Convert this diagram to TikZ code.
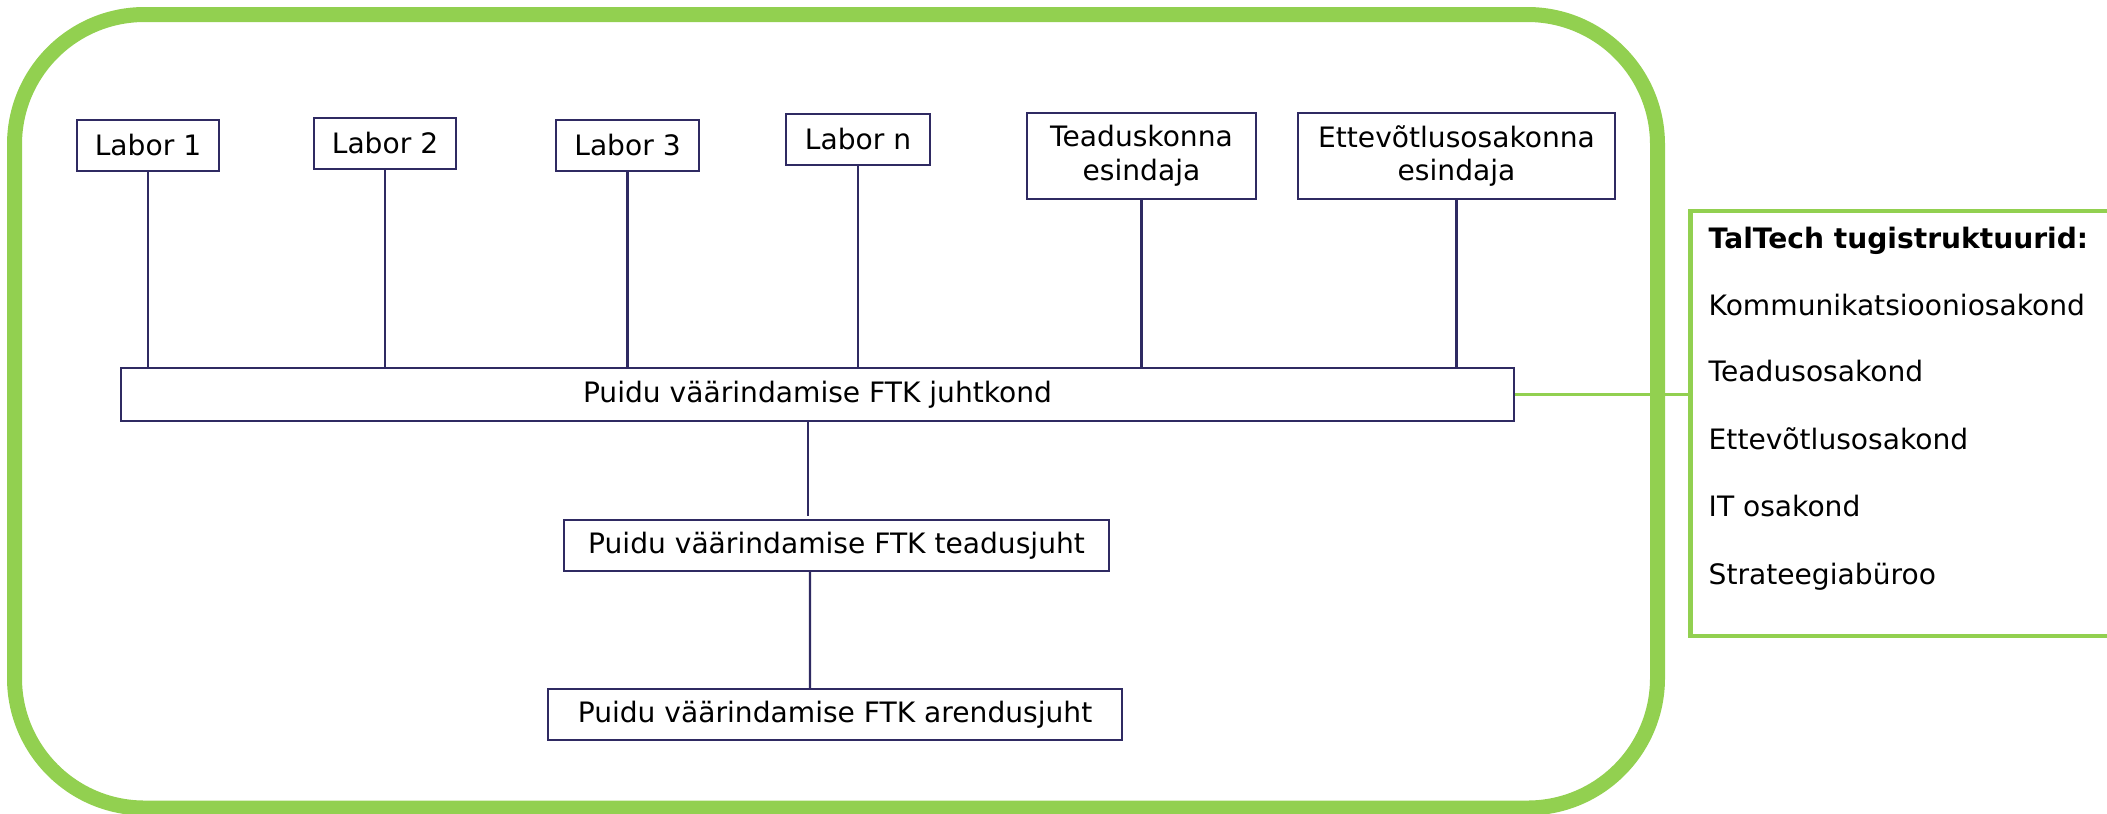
\documentclass[tikz,border=0pt]{standalone}
\usepackage{fontspec}
\setmainfont{DejaVu Sans}
\usepackage{tikz}
\usetikzlibrary{positioning}
\definecolor{taltechgreen}{RGB}{146,208,80}
\definecolor{boxline}{RGB}{47,42,98}

\begin{document}
\begin{tikzpicture}[
        unit/.style={draw=boxline, line width=0.6pt, fill=white, inner sep=0pt, align=center, font=\fontsize{8}{9.6}\selectfont},
        link/.style={draw=boxline, line width=0.6pt},
        item/.style={anchor=base west, inner sep=0pt, font=\fontsize{8}{9.6}\selectfont}
    ]
                \useasboundingbox (0,0) rectangle (21.07,-8.13);
                \clip (0,0) rectangle (21.07,-8.13);

                \draw[taltechgreen, line width=0.15cm, rounded corners=1.3cm] (0.145,-0.145) rectangle (16.575,-8.08);

                \node[unit, minimum width=1.42cm, minimum height=0.51cm] (labor1) at (1.48,-1.455) {Labor 1};
                \node[unit, minimum width=1.42cm, minimum height=0.51cm] (labor2) at (3.85,-1.435) {Labor 2};
                \node[unit, minimum width=1.43cm, minimum height=0.51cm] (labor3) at (6.275,-1.455) {Labor 3};
                \node[unit, minimum width=1.44cm, minimum height=0.51cm] (laborn) at (8.58,-1.395) {Labor n};
                \node[unit, minimum width=2.29cm, minimum height=0.86cm] (teaduskond) at (11.415,-1.56) {Teaduskonna\\esindaja};
                \node[unit, minimum width=3.17cm, minimum height=0.86cm] (ettevotlus) at (14.565,-1.56) {Ettevõtlusosakonna\\esindaja};

                \node[unit, minimum width=13.93cm, minimum height=0.53cm] (juhtkond) at (8.175,-3.945) {Puidu väärindamise FTK juhtkond};
                \node[unit, minimum width=5.45cm, minimum height=0.51cm] (teadusjuht) at (8.365,-5.455) {Puidu väärindamise FTK teadusjuht};
                \node[unit, minimum width=5.74cm, minimum height=0.51cm] (arendusjuht) at (8.35,-7.145) {Puidu väärindamise FTK arendusjuht};

                \draw[link] (labor1.south) -- (labor1.south |- juhtkond.north);
                \draw[link] (labor2.south) -- (labor2.south |- juhtkond.north);
                \draw[link] (labor3.south) -- (labor3.south |- juhtkond.north);
                \draw[link] (laborn.south) -- (laborn.south |- juhtkond.north);
                \draw[link] (teaduskond.south) -- (teaduskond.south |- juhtkond.north);
                \draw[link] (ettevotlus.south) -- (ettevotlus.south |- juhtkond.north);
                \draw[link] ([xshift=-0.095cm]juhtkond.south) -- ([xshift=-0.285cm,yshift=0.03cm]teadusjuht.north);
                \draw[link] ([xshift=-0.265cm]teadusjuht.south) -- ([xshift=-0.25cm]arendusjuht.north);

                % tugistruktuurid
                \node[draw=taltechgreen, line width=1.4pt, minimum width=4.395cm, minimum height=4.25cm, inner sep=0pt] (tugi) at (19.1,-4.235) {};
                \draw[taltechgreen, line width=0.9pt] (juhtkond.east) -- (juhtkond.east -| tugi.west);

                \node[item, font=\fontsize{8}{9.6}\selectfont\bfseries] (tugipealkiri) at (17.08,-2.483) {TalTech tugistruktuurid:};
                \node[item] (kommunikatsioon) at (17.08,-3.15) {Kommunikatsiooniosakond};
                \node[item] (teadusosakond) at (17.08,-3.817) {Teadusosakond};
                \node[item] (ettevotlusosakond) at (17.08,-4.49) {Ettevõtlusosakond};
                \node[item] (itosakond) at (17.08,-5.167) {IT osakond};
                \node[item] (strateegia) at (17.08,-5.84) {Strateegiabüroo};
            \end{tikzpicture}
\end{document}
